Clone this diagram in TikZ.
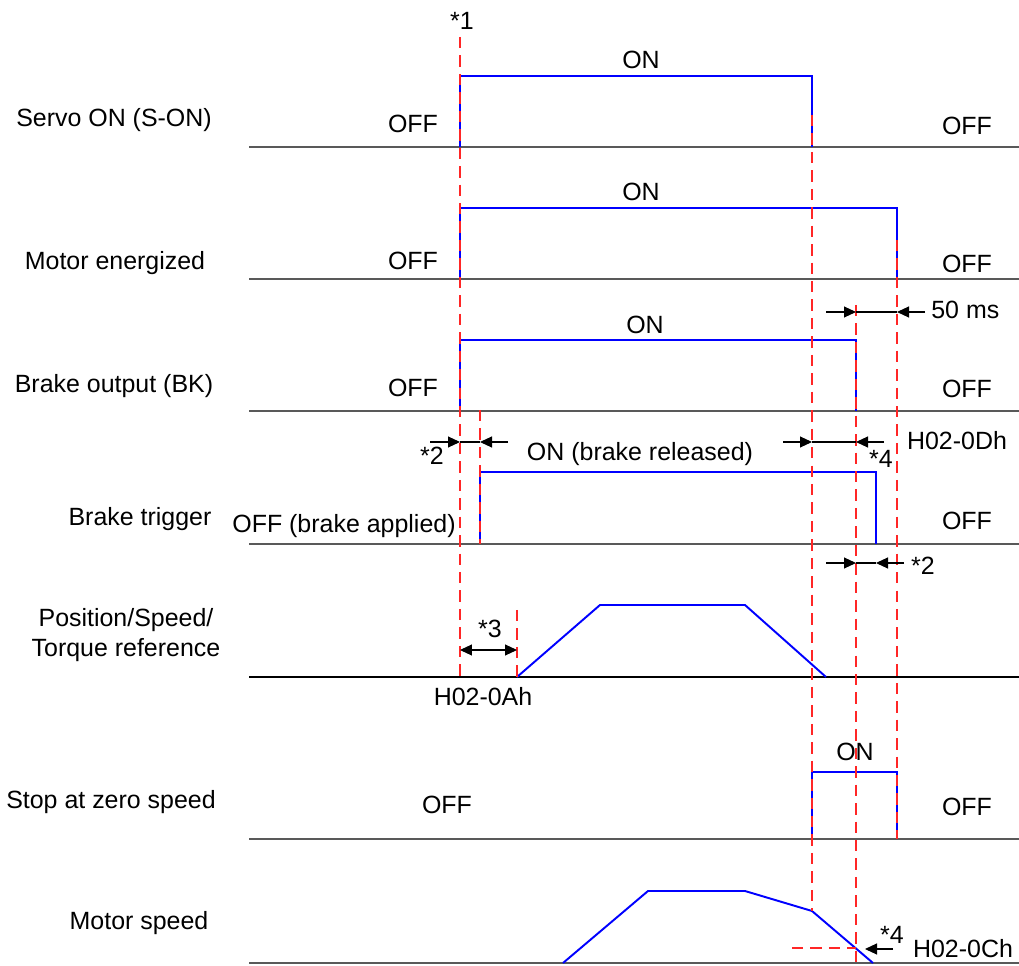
\documentclass[tikz,border=0pt]{standalone}
\usepackage{fontspec}
\setmainfont{Liberation Sans}
\usetikzlibrary{arrows.meta}

\begin{document}
\begin{tikzpicture}[
  x=0.02cm, y=-0.02cm,
  lbl/.style={font=\fontsize{14.2}{17}\selectfont, inner sep=0pt, anchor=base},
  axis/.style={black!65, line width=0.8pt},
  sig/.style={blue, line width=1.1pt},
  tline/.style={red!85, line width=0.8pt, dash pattern=on 6.5pt off 4pt},
  arr/.style={-{Triangle[length=2.4mm, width=2.2mm]}, line width=0.6pt},
  dbl/.style={{Triangle[length=2.4mm, width=2.2mm]}-{Triangle[length=2.4mm, width=2.2mm]}, line width=0.6pt},
  dim/.style={line width=0.6pt},
]
\useasboundingbox (0,0) rectangle (1019,966);

% time axes
\foreach \y in {147,279,411,544,839,963}
  \draw[axis] (249,\y) -- (1019,\y);
\draw[black, line width=0.8pt] (249,677) -- (1019,677);

% Servo ON (S-ON)
\node[lbl] (sonName) at (114,127) {Servo ON (S-ON)};
\draw[sig] (460,147) -- (460,76) -- (812,76) -- (812,147);
\node[lbl] (sonOn) at (641,69) {ON};
\node[lbl] (sonOffA) at (413,133) {OFF};
\node[lbl] (sonOffB) at (967,135) {OFF};

% Motor energized
\node[lbl] (menName) at (115,270) {Motor energized};
\draw[sig] (460,279) -- (460,208) -- (897,208) -- (897,279);
\node[lbl] (menOn) at (641,201) {ON};
\node[lbl] (menOffA) at (413,270) {OFF};
\node[lbl] (menOffB) at (967,273) {OFF};

% Brake output (BK)
\node[lbl] (bkName) at (114,393) {Brake output (BK)};
\draw[sig] (460,411) -- (460,340) -- (856,340) -- (856,411);
\node[lbl] (bkOn) at (645,334) {ON};
\node[lbl] (bkOffA) at (413,397) {OFF};
\node[lbl] (bkOffB) at (967,398) {OFF};

% Brake trigger
\node[lbl] (btName) at (140,526) {Brake trigger};
\draw[sig] (480,544) -- (480,472) -- (876,472) -- (876,544);
\node[lbl] (btOn) at (640,461) {ON (brake released)};
\node[lbl] (btOffA) at (344,533) {OFF (brake applied)};
\node[lbl] (btOffB) at (967,530) {OFF};

% Position/Speed/Torque reference
\node[lbl] (refNameA) at (126,626) {Position/Speed/};
\node[lbl] (refNameB) at (126,657) {Torque reference};
\draw[sig] (517,677) -- (600,605) -- (745,605) -- (826,677);
\node[lbl] (refPar) at (483,705) {H02-0Ah};

% Stop at zero speed
\node[lbl] (zsName) at (111,808) {Stop at zero speed};
\draw[sig] (812,839) -- (812,772) -- (897,772) -- (897,839);
\node[lbl] (zsOn) at (855,761) {ON};
\node[lbl] (zsOffA) at (447,813) {OFF};
\node[lbl] (zsOffB) at (967,815) {OFF};

% Motor speed
\node[lbl] (msName) at (139,929) {Motor speed};
\draw[sig] (563,963) -- (648,891) -- (745,891) -- (812,911) -- (873,963);
\node[lbl] (msPar) at (963,957) {H02-0Ch};

% time marks
\draw[tline] (460,37) -- (460,680);
\draw[tline] (480,410) -- (480,544);
\draw[tline] (517,610) -- (517,677);
\draw[tline] (812,115) -- (812,911);
\draw[tline] (856,305) -- (856,966);
\draw[tline] (897,240) -- (897,839);
\draw[tline] (792,948) -- (856,948);
\node[lbl] (n1) at (462,30) {*1};

% 50 ms
\draw[arr] (826,312) -- (856,312);
\draw[dim] (856,312) -- (897,312);
\draw[arr] (925,312) -- (897,312);
\node[lbl, anchor=base west] (t50) at (931,319) {50 ms};

% *2 brake release delay
\draw[arr] (430,442) -- (460,442);
\draw[dim] (460,442) -- (480,442);
\draw[arr] (508,442) -- (480,442);
\node[lbl] (n2a) at (432,465) {*2};

% *4 / H02-0Dh
\draw[arr] (783,442) -- (812,442);
\draw[dim] (812,442) -- (856,442);
\draw[arr] (884,442) -- (856,442);
\node[lbl] (n4a) at (881,468) {*4};
\node[lbl] (bkPar) at (957,450) {H02-0Dh};

% *2 brake apply delay
\draw[arr] (826,563) -- (856,563);
\draw[dim] (856,563) -- (876,563);
\draw[arr] (904,563) -- (876,563);
\node[lbl] (n2b) at (923,575) {*2};

% *3
\draw[dbl] (460,650) -- (517,650);
\node[lbl] (n3) at (490,638) {*3};

% *4 / H02-0Ch
\draw[arr] (893,949) -- (865,949);
\node[lbl] (n4b) at (892,943) {*4};
\end{tikzpicture}
\end{document}
